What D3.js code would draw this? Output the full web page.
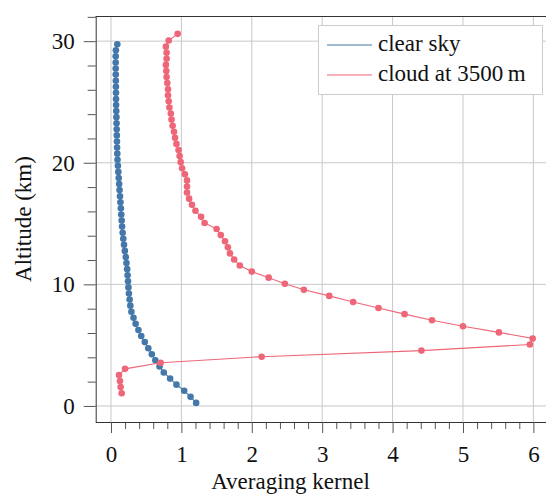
<!DOCTYPE html>
<html>
<head>
<meta charset="utf-8">
<script src="https://cdn.jsdelivr.net/npm/d3@7"></script>
<style>
  body { margin: 0; background: #fff; }
  svg text { font-family: "Liberation Serif", "Times New Roman", serif; fill: #111; }
</style>
</head>
<body>
<div class="canvas"></div>
<script>
// altitudes (km) and averaging kernel values
const clearAlt = [0.25, 0.75, 1.25, 1.75, 2.25, 2.75, 3.25, 3.75, 4.25, 4.75,
  5.25, 5.75, 6.25, 6.75, 7.25, 7.75, 8.25, 8.75, 9.25, 9.75,
  10.25, 10.75, 11.25, 11.75, 12.25, 12.75, 13.25, 13.75, 14.25, 14.75,
  15.25, 15.75, 16.25, 16.75, 17.25, 17.75, 18.25, 18.75, 19.25, 19.75,
  20.25, 20.75, 21.25, 21.75, 22.25, 22.75, 23.25, 23.75, 24.25, 24.75,
  25.25, 25.75, 26.25, 26.75, 27.25, 27.75, 28.25, 28.75, 29.25, 29.75]
const clearAk = [1.21, 1.13, 1.04, 0.93, 0.84, 0.75, 0.69, 0.63, 0.58, 0.53,
  0.48, 0.43, 0.39, 0.35, 0.32, 0.29, 0.275, 0.265, 0.255, 0.248,
  0.242, 0.236, 0.23, 0.22, 0.21, 0.197, 0.185, 0.175, 0.166, 0.158,
  0.152, 0.146, 0.14, 0.134, 0.128, 0.122, 0.116, 0.11, 0.104, 0.098,
  0.093, 0.09, 0.087, 0.085, 0.083, 0.081, 0.079, 0.077, 0.075, 0.073,
  0.072, 0.071, 0.07, 0.069, 0.068, 0.067, 0.067, 0.067, 0.07, 0.09]

const cloudAlt = [1.05, 1.55, 2.05, 2.55, 3.05, 3.55, 4.05, 4.55, 5.05, 5.55,
  6.05, 6.55, 7.05, 7.55, 8.05, 8.55, 9.05, 9.55, 10.05, 10.55,
  11.05, 11.55, 12.05, 12.55, 13.05, 13.55, 14.05, 14.55, 15.05, 15.55,
  16.05, 16.55, 17.05, 17.55, 18.05, 18.55, 19.05, 19.55, 20.05, 20.55,
  21.05, 21.55, 22.05, 22.55, 23.05, 23.55, 24.05, 24.55, 25.05, 25.55,
  26.05, 26.55, 27.05, 27.55, 28.05, 28.55, 29.05, 29.55, 30.05, 30.6]
const cloudAk = [0.152, 0.137, 0.128, 0.114, 0.2, 0.705, 2.14, 4.41, 5.95, 5.99,
  5.51, 5.0, 4.56, 4.17, 3.8, 3.44, 3.1, 2.74, 2.47, 2.24,
  2.0, 1.83, 1.75, 1.69, 1.66, 1.62, 1.56, 1.5, 1.33, 1.28,
  1.2, 1.15, 1.11, 1.08, 1.08, 1.08, 1.05, 1.01, 0.99, 0.975,
  0.96, 0.93, 0.91, 0.895, 0.876, 0.86, 0.85, 0.83, 0.82, 0.81,
  0.81, 0.8, 0.79, 0.786, 0.78, 0.79, 0.79, 0.78, 0.82, 0.947]

const xTicks = [0, 1, 2, 3, 4, 5, 6]
const yTicks = [0, 10, 20, 30]
const seriesNames = ['clear sky', 'cloud at 3500\u2009m']
const seriesColors = ['#4477AA', '#EE6677']

const width = 546
const height = 495
const fontSize = 23

const svg = d3.select('.canvas').append('svg')
  .attr('width', width)
  .attr('height', height)

const x = d3.scaleLinear()
  .domain([-0.217, 6.3])
  .range([95.7, 554.5])

const y = d3.scaleLinear()
  .domain([-1.32, 32.07])
  .range([422, 16])

const [x0, x1] = x.range()
const [yb, yt] = y.range()

// grid
const grid = svg.append('g')
grid.selectAll('.vgrid')
  .data(xTicks)
  .enter().append('line')
  .attr('x1', d => x(d)).attr('x2', d => x(d))
  .attr('y1', yt).attr('y2', yb)
  .attr('stroke', '#c8c8c8').attr('stroke-width', 1)
grid.selectAll('.hgrid')
  .data(yTicks)
  .enter().append('line')
  .attr('x1', x0).attr('x2', x1)
  .attr('y1', d => y(d)).attr('y2', d => y(d))
  .attr('stroke', '#c8c8c8').attr('stroke-width', 1)

// axes: minor ticks first, then major ticks with labels
const xMinor = d3.range(0, 6.3, 0.2).filter(v => Math.abs(v - Math.round(v)) > 0.01)
const yMinor = d3.range(0, 32.1, 2).filter(v => v % 10 !== 0)

svg.append('g')
  .attr('transform', `translate(0,${yb})`)
  .call(d3.axisBottom(x).tickValues(xMinor).tickSize(7).tickFormat(''))
  .call(g => g.select('.domain').remove())
svg.append('g')
  .attr('transform', `translate(${x0},0)`)
  .call(d3.axisLeft(y).tickValues(yMinor).tickSize(8).tickFormat(''))
  .call(g => g.select('.domain').remove())

const xAxisGroup = svg.append('g')
  .attr('transform', `translate(0,${yb})`)
  .call(d3.axisBottom(x).tickValues(xTicks).tickSize(11).tickPadding(13).tickFormat(d3.format('d')))
const yAxisGroup = svg.append('g')
  .attr('transform', `translate(${x0},0)`)
  .call(d3.axisLeft(y).tickValues(yTicks).tickSize(12).tickPadding(9).tickFormat(d3.format('d')))

svg.selectAll('.tick line').attr('stroke', '#555')
svg.selectAll('.domain').attr('stroke', '#333')
xAxisGroup.selectAll('text').attr('font-size', fontSize).attr('dy', '0.71em')
yAxisGroup.selectAll('text').attr('font-size', fontSize).attr('dy', '0.33em')
xAxisGroup.select('.domain').attr('d', `M${x0},0.5H${x1}`)
yAxisGroup.select('.domain').attr('d', `M0.5,${yb}V${yt}`)

// top frame line
svg.append('line')
  .attr('x1', x0).attr('x2', x1)
  .attr('y1', yt + 0.5).attr('y2', yt + 0.5)
  .attr('stroke', '#333').attr('stroke-width', 1)

// axis titles
svg.append('text')
  .attr('x', x(2.55)).attr('y', 489)
  .attr('text-anchor', 'middle')
  .attr('font-size', fontSize)
  .text('Averaging kernel')
svg.append('text')
  .attr('transform', `translate(31,${(yt + yb) / 2}) rotate(-90)`)
  .attr('text-anchor', 'middle')
  .attr('font-size', fontSize)
  .text('Altitude (km)')

// series
const series = [
  { name: seriesNames[0], color: seriesColors[0], pts: clearAlt.map((a, i) => [clearAk[i], a]) },
  { name: seriesNames[1], color: seriesColors[1], pts: cloudAlt.map((a, i) => [cloudAk[i], a]) }
]

const line = d3.line().x(d => x(d[0])).y(d => y(d[1]))

series.forEach(s => {
  const g = svg.append('g')
  g.append('path')
    .attr('d', line(s.pts))
    .attr('fill', 'none')
    .attr('stroke', s.color)
    .attr('stroke-width', 1.1)
  g.selectAll('circle')
    .data(s.pts)
    .enter().append('circle')
    .attr('cx', d => x(d[0]))
    .attr('cy', d => y(d[1]))
    .attr('r', 3.3)
    .attr('fill', s.color)
})

// legend
const legend = svg.append('g')
legend.append('rect')
  .attr('x', 318.5).attr('y', 25.5)
  .attr('width', 224).attr('height', 69)
  .attr('fill', '#fff')
  .attr('stroke', '#ccc')
series.forEach((s, i) => {
  const ly = 45 + i * 30
  legend.append('line')
    .attr('x1', 327).attr('x2', 372)
    .attr('y1', ly).attr('y2', ly)
    .attr('stroke', s.color).attr('stroke-width', 1.1)
  legend.append('text')
    .attr('x', 378).attr('y', ly + 6)
    .attr('font-size', fontSize)
    .text(s.name)
})
</script>
</body>
</html>
